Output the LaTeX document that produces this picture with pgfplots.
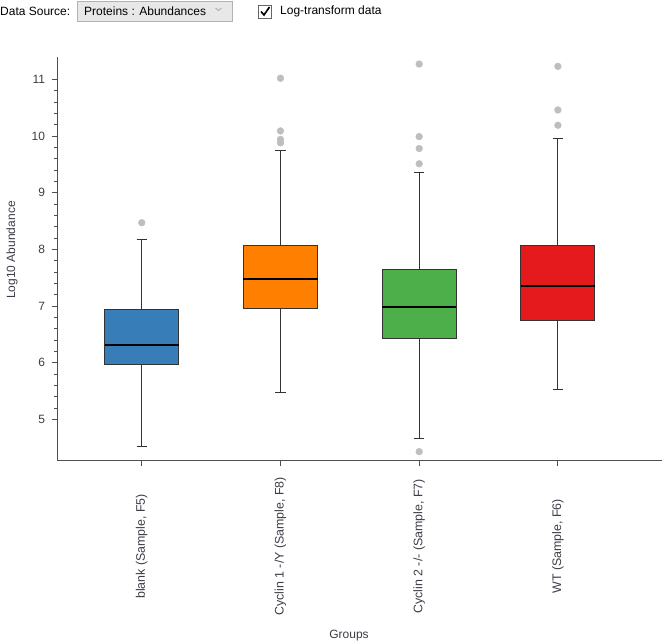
\documentclass[border=0pt]{standalone}
\usepackage{pgfplots}
\pgfplotsset{compat=1.18}
\usepgfplotslibrary{statistics}
\usepackage{fontspec}
\setmainfont{Liberation Sans}
\definecolor{cBlue}{HTML}{377EB8}
\definecolor{cOrange}{HTML}{FF7F00}
\definecolor{cGreen}{HTML}{4DAF4A}
\definecolor{cRed}{HTML}{E41A1C}
\definecolor{outgray}{HTML}{BEBEBE}
\definecolor{boxgray}{HTML}{333333}
\definecolor{axisgray}{HTML}{505050}
\definecolor{labgray}{HTML}{3C3C46}
\newcommand{\fs}{\fontsize{12}{14}\selectfont}
\newcommand{\fx}{\fontsize{12.4}{14}\selectfont}
\begin{document}
\begin{tikzpicture}
\useasboundingbox (0,0) rectangle (662pt,643pt);
% UI widgets
\begin{scope}[x=1pt,y=1pt]
\node[anchor=west, inner sep=0pt, font=\fs, text=black] at (0,631.5) {Data Source:};
\draw[fill=gray!18, draw=gray!60] (77.5,622) rectangle (232,642);
\node[anchor=west, inner sep=0pt, font=\fs, text=black] at (84,632) {Proteins : Abundances};
\draw[gray!70, line width=0.8pt] (215.5,635) -- (218.5,632.5) -- (221.5,635);
\draw[fill=white, draw=gray!80!black, line width=0.8pt] (258.5,625) rectangle (271.5,638);
\draw[black, line width=1.6pt] (261,631.5) -- (264,628) -- (269.5,636);
\node[anchor=west, inner sep=0pt, font=\fs, text=black] at (280,631.5) {Log-transform data};
\node[rotate=90, font=\fs, text=labgray] at (12,393) {Log10 Abundance};
\node[font=\fs, text=labgray] at (349,7.5) {Groups};
\end{scope}
\begin{axis}[
  at={(57.3pt,182.3pt)}, anchor=south west,
  scale only axis, width=606pt, height=404pt,
  xmin=-0.609, xmax=3.76, ymin=4.27, ymax=11.4,
  axis x line*=bottom, axis y line*=left,
  axis line style={draw=axisgray, line width=1pt},
  xtick={0,1,2,3},
  xticklabels={{blank (Sample, F5)},{Cyclin 1 -/Y (Sample, F8)},{Cyclin 2 -/- (Sample, F7)},{WT (Sample, F6)}},
  ytick={5,6,7,8,9,10,11},
  minor y tick num=4,
  tick align=outside, xtick pos=bottom, ytick pos=left,
  major tick length=5.7pt, minor tick length=3.3pt,
  tick style={draw=axisgray, line width=0.9pt},
  /pgf/number format/assume math mode=true,
  ticklabel style={font=\fs, text=labgray},
  xticklabel style={rotate=90, anchor=center, font=\fx},
  xticklabel shift=80pt,
  yticklabel style={xshift=-3pt},
  clip=false,
  boxplot/draw direction=y,
  boxplot/box extend=0.535,
  boxplot/whisker extend=0.075,
  boxplot/every whisker/.style={draw=boxgray, line width=1.2pt},
  boxplot/every median/.style={draw=black, line width=2pt},
]
\addplot[boxplot prepared={draw position=0, lower whisker=4.52, lower quartile=5.96, median=6.31, upper quartile=6.93, upper whisker=8.17},
  boxplot/every box/.style={draw=boxgray, line width=1pt, fill=cBlue},
  mark=*, mark size=3.4pt, mark options={fill=outgray, draw=outgray}]
  table[row sep=\\, y index=0] {data\\ 8.47\\};
\addplot[boxplot prepared={draw position=1, lower whisker=5.48, lower quartile=6.95, median=7.48, upper quartile=8.07, upper whisker=9.74},
  boxplot/every box/.style={draw=boxgray, line width=1pt, fill=cOrange},
  mark=*, mark size=3.4pt, mark options={fill=outgray, draw=outgray}]
  table[row sep=\\, y index=0] {data\\ 11.02\\ 10.09\\ 9.94\\ 9.88\\};
\addplot[boxplot prepared={draw position=2, lower whisker=4.66, lower quartile=6.43, median=6.98, upper quartile=7.65, upper whisker=9.36},
  boxplot/every box/.style={draw=boxgray, line width=1pt, fill=cGreen},
  mark=*, mark size=3.4pt, mark options={fill=outgray, draw=outgray}]
  table[row sep=\\, y index=0] {data\\ 11.27\\ 9.99\\ 9.78\\ 9.51\\ 4.43\\};
\addplot[boxplot prepared={draw position=3, lower whisker=5.52, lower quartile=6.75, median=7.36, upper quartile=8.07, upper whisker=9.96},
  boxplot/every box/.style={draw=boxgray, line width=1pt, fill=cRed},
  mark=*, mark size=3.4pt, mark options={fill=outgray, draw=outgray}]
  table[row sep=\\, y index=0] {data\\ 11.23\\ 10.46\\ 10.19\\};
\end{axis}
\end{tikzpicture}
\end{document}
